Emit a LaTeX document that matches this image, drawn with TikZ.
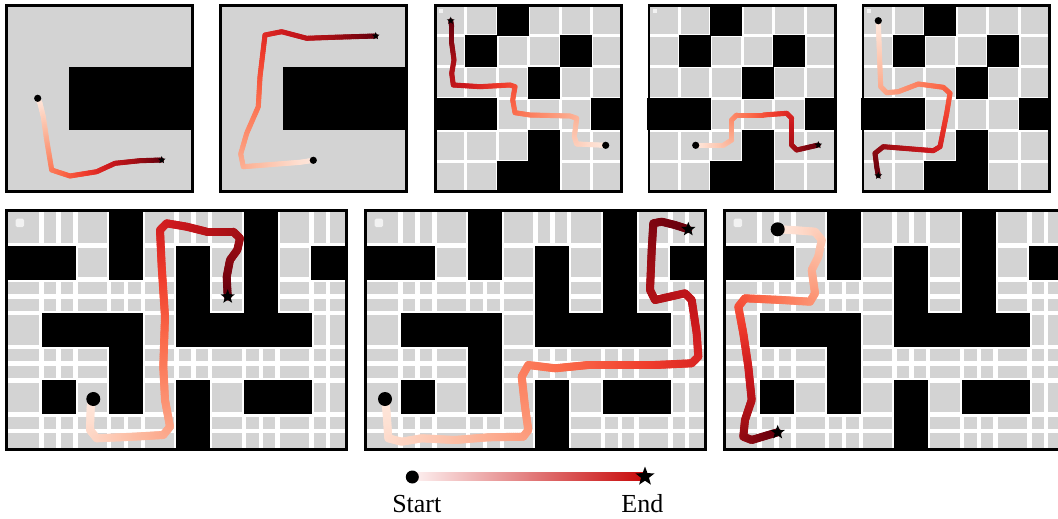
\documentclass[tikz,border=0pt]{standalone}
\usepackage{fontspec}
\setmainfont{Liberation Serif}
\usetikzlibrary{shapes.geometric}
\definecolor{Rd0}{HTML}{FFF5F0}
\definecolor{Rd1}{HTML}{FEE0D2}
\definecolor{Rd2}{HTML}{FCBBA1}
\definecolor{Rd3}{HTML}{FC9272}
\definecolor{Rd4}{HTML}{FB6A4A}
\definecolor{Rd5}{HTML}{EF3B2C}
\definecolor{Rd6}{HTML}{CB181D}
\definecolor{Rd7}{HTML}{A50F15}
\definecolor{Rd8}{HTML}{67000D}
\definecolor{mzgray}{HTML}{D3D3D3}
\definecolor{mkwhite}{HTML}{F2F2F2}
\definecolor{lgL}{HTML}{FDF2F2}
\definecolor{lgR}{HTML}{C80A0A}
\tikzset{
  panelframe/.style={draw=black, line width=2.6pt},
  wline/.style={draw=white, line width=3pt},
  bwline/.style={draw=white, line width=4.5pt},
  wallcell/.style={fill=black},
  marker/.style={fill=mkwhite},
  startdot/.style={fill=black},
  endstar/.style={star, star points=5, star point ratio=2.4, fill=black, draw=none, inner sep=0pt},
  labeltext/.style={font=\fontsize{26}{30}\selectfont, anchor=base, inner sep=0pt},
}
% colour of the Reds map at #1 in [0,1] -> tjc
\newcommand\tjcolor[1]{%
  \pgfmathsetmacro\tjU{min(#1,0.9999)*8}%
  \pgfmathtruncatemacro\tjK{floor(\tjU)}%
  \pgfmathtruncatemacro\tjKK{\tjK+1}%
  \pgfmathsetmacro\tjP{100*(1-(\tjU-\tjK))}%
  \edef\tjE{Rd\tjK!\tjP!Rd\tjKK}%
  \colorlet{tjc}{\tjE}%
}
% trajectory with colour along its length: #1 width, #2 points x/y,...
\newcommand\traj[2]{%
  \gdef\tjL{0}%
  \foreach \px/\py [count=\i] in {#2} {%
    \ifnum\i>1
      \pgfmathsetmacro\tjS{10*veclen((\px-\tjX)/10,(\py-\tjY)/10)}%
      \pgfmathsetmacro\tjT{\tjL+\tjS}%
      \xdef\tjL{\tjT}%
    \fi
    \xdef\tjX{\px}\xdef\tjY{\py}%
  }%
  \gdef\tjC{0}%
  \foreach \px/\py [count=\i] in {#2} {%
    \ifnum\i>1
      \pgfmathsetmacro\tjS{10*veclen((\px-\tjX)/10,(\py-\tjY)/10)}%
      \pgfmathtruncatemacro\tjM{max(1,round(\tjS/2))}%
      \foreach \j in {1,...,\tjM} {%
        \pgfmathsetmacro\ax{\tjX+(\px-\tjX)*(\j-1)/\tjM}%
        \pgfmathsetmacro\ay{\tjY+(\py-\tjY)*(\j-1)/\tjM}%
        \pgfmathsetmacro\bx{\tjX+(\px-\tjX)*\j/\tjM}%
        \pgfmathsetmacro\by{\tjY+(\py-\tjY)*\j/\tjM}%
        \pgfmathsetmacro\tt{0.08+0.92*(\tjC+\tjS*(\j-0.5)/\tjM)/\tjL}%
        \tjcolor{\tt}%
        \draw[line width=#1, line cap=round, color=tjc] (\ax,\ay) -- (\bx,\by);
      }%
      \pgfmathsetmacro\tjT{\tjC+\tjS}\xdef\tjC{\tjT}%
    \fi
    \xdef\tjX{\px}\xdef\tjY{\py}%
  }%
}
% 6x6 maze panel at x offset #1
\newcommand\smallmaze[1]{%
  \begin{scope}[shift={(#1,0)}]
    \fill[mzgray] (0,4) rectangle (189,193);
    \foreach \c in {1,...,5} {\draw[wline] (\c*31.5,4) -- (\c*31.5,193);}
    \foreach \r in {1,...,5} {\draw[wline] (0,4+\r*31.5) -- (189,4+\r*31.5);}
    \foreach \c/\r in {2/0,1/1,4/1,3/2,0/3,1/3,5/3,3/4,2/5,3/5}
      {\fill[wallcell] (\c*31.5-0.2,4+\r*31.5-0.2) rectangle ++(31.9,31.9);}
    \fill[marker] (5,9) rectangle (9.3,13.3);
  \end{scope}
}
% 10x7 maze panel at x offset #1
\newcommand\bigmaze[1]{%
  \begin{scope}[shift={(#1,0)}]
    \fill[mzgray] (0,209) rectangle (343,451);
    \foreach \c in {1,...,9} {\draw[bwline] (3+\c*33.7,209) -- (3+\c*33.7,451);}
    \foreach \c in {1,3,5,7,9} {\draw[bwline] (3+\c*33.7+16.85,209) -- (3+\c*33.7+16.85,451);}
    \foreach \r in {1,...,6} {\draw[bwline] (0,212+\r*33.714) -- (343,212+\r*33.714);}
    \foreach \r in {2,4,6} {\draw[bwline] (0,212+\r*33.714+16.857) -- (343,212+\r*33.714+16.857);}
    \foreach \c/\r in {0/1,1/1,3/0,3/1,5/1,5/2,5/3,6/3,7/3,8/3,7/0,7/1,7/2,9/1,1/3,2/3,3/3,3/4,3/5,1/5,5/5,5/6,7/5,8/5}
      {\fill[wallcell] (3+\c*33.7-0.2,212+\r*33.714-0.2) rectangle ++(34.1,34.1);}
    \fill[marker, rounded corners=1.5pt] (10.7,218.7) rectangle (19,227);
  \end{scope}
}
\begin{document}
\begin{tikzpicture}[x=1pt,y=-1pt]
\useasboundingbox (0,0) rectangle (1058,519);
\clip (0,0) rectangle (1058,519);
\fill[white] (0,0) rectangle (1058,519);

% ---- top row ----
% panel 1
\fill[mzgray] (5,4) rectangle (194,193);
\fill[wallcell] (69,67) rectangle (194,130);
\traj{5pt}{37.7/98.3,40/103.3,43.3/116.7,46.7/140,51.7/170,70/176,96.7/171.7,115/163.3,140/160.7,161.7/160}
\fill[startdot] (37.7,98.3) circle[radius=3.6pt];
\node[endstar, minimum size=8pt] (end1) at (161.7,160) {};
\draw[panelframe] (6.3,5.3) rectangle (192.7,191.7);

% panel 2
\fill[mzgray] (219,4) rectangle (408,193);
\fill[wallcell] (283,67) rectangle (408,130);
\traj{5pt}{313.3/160.3,300/162.3,243.3/166.7,240.7/154,246.7/133.3,258.3/106.7,260/76.7,265/35,281.7/31.7,306.7/38.3,333.3/37.3,375.7/36}
\fill[startdot] (313.3,160.3) circle[radius=3.6pt];
\node[endstar, minimum size=8pt] (end2) at (375.7,36) {};
\draw[panelframe] (220.3,5.3) rectangle (406.7,191.7);

% panel 3
\smallmaze{434}
\traj{5pt}{605.7/145.3,576.7/144,574.3/136.7,576.7/118.3,570/116,530/115,515/112.7,512.7/100,515/86.7,510/85,480/86.7,453.3/85,451.7/73.3,454/60,451.7/43.3,451.7/26.7,450.7/20.7}
\fill[startdot] (605.7,145.3) circle[radius=3.6pt];
\node[endstar, minimum size=8pt] (end3) at (450.7,20.7) {};
\draw[panelframe] (435.3,5.3) rectangle (621.7,191.7);

% panel 4
\smallmaze{647.5}
\traj{5pt}{695.7/145.3,723.3/145.3,731.7/140,731.7/120,736.7/115,763.3/115,786.7/113.3,791.7/118.3,791.7/145,796.7/150,818.3/145}
\fill[startdot] (695.7,145.3) circle[radius=3.6pt];
\node[endstar, minimum size=8pt] (end4) at (818.3,145) {};
\draw[panelframe] (648.8,5.3) rectangle (835.2,191.7);

% panel 5
\smallmaze{861.5}
\traj{5pt}{878.3/20.7,879.3/50,880.7/86.7,886.7/92.7,898.3/91.7,918.3/84,943.3/87.3,950/93.3,946.7/113.3,940/146.7,933.3/150.7,883.3/146.7,875/153.3,876.7/166.7,878.3/175.7}
\fill[startdot] (878.3,20.7) circle[radius=3.6pt];
\node[endstar, minimum size=8pt] (end5) at (878.3,175.7) {};
\draw[panelframe] (862.8,5.3) rectangle (1049.2,191.7);

% ---- bottom row ----
% panel 6
\bigmaze{5}
\traj{8pt}{93.3/399,90.7/406.7,90/430,96.7/438.3,133.3/436.7,163.3/435,170/426.7,165/400,163.3/366.7,165/316.7,161.7/266.7,160/230,166.7/223.3,186.7/226.7,206.7/231.7,233.3/231.7,240/238.3,237.3/250,230/260,226.7/276.7,227.7/296.7}
\fill[startdot] (93.3,399) circle[radius=7pt];
\node[endstar, minimum size=15pt] (end6) at (227.7,296.7) {};
\draw[panelframe] (6.3,210.3) rectangle (346.7,449.7);

% panel 7
\bigmaze{364}
\traj{8pt}{385/399,386.7/413.3,388.3/438.3,401.7/441.7,421.7/438.3,455/440,488.3/437.3,523.3/436.7,528.3/430,525/406.7,521.7/376.7,528.3/365,555/368.3,588.3/365,655/365,691.7/363.3,698.3/356.7,696.7/333.3,691.7/300,685/293.3,655/300,650/290,651.7/250,653.3/223.3,661.7/221.7,675/225,688.3/229.3}
\fill[startdot] (385,399) circle[radius=7pt];
\node[endstar, minimum size=15pt] (end7) at (688.3,229.3) {};
\draw[panelframe] (365.3,210.3) rectangle (705.7,449.7);

% panel 8 (cut by the right edge)
\bigmaze{723}
\traj{8pt}{777.7/229.3,791.7/230,815/231.7,821.7/240,818.3/256.7,811.7/270,815/293.3,810/301.7,781.7/300,745/298.3,738.3/306.7,743.3/333.3,748.3/366.7,751.7/400,745/420,743.3/436.7,751.7/440,768.3/435,777.7/432.3}
\fill[startdot] (777.7,229.3) circle[radius=7pt];
\node[endstar, minimum size=15pt] (end8) at (777.7,432.3) {};
\draw[panelframe] (724.3,210.3) rectangle (1064.7,449.7);

% ---- legend ----
\shade[left color=lgL, right color=lgR] (412,472.7) rectangle (643,480.9);
\fill[startdot] (412.3,477) circle[radius=6.5pt];
\node[endstar, minimum size=20pt] (legend-end) at (645,476.5) {};
\node[labeltext] (start-label) at (416.8,512) {Start};
\node[labeltext] (end-label) at (642.3,512) {End};
\end{tikzpicture}
\end{document}
